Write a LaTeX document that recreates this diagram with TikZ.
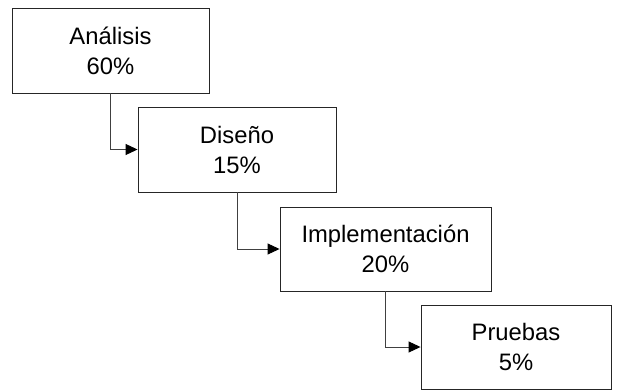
\documentclass[tikz,border=0pt]{standalone}
\usepackage{fontspec}
\setmainfont{Liberation Sans}
\usetikzlibrary{arrows.meta}
\begin{document}
\begin{tikzpicture}[x=1pt,y=-1pt,
  phase/.style={draw=black!85,line width=0.9pt,fill=white,align=center,inner sep=0pt,
    font=\fontsize{23.8}{30}\selectfont},
  link/.style={draw=black!75,line width=0.9pt,-{Triangle[length=12pt,width=11pt,color=black]}}]
\useasboundingbox (0,0) rectangle (620,390);
\node[phase,minimum width=197pt,minimum height=85pt] (a) at (110.5,50.5) {Análisis\\60\%};
\node[phase,minimum width=198pt,minimum height=85pt] (b) at (237,149.5) {Diseño\\15\%};
\node[phase,minimum width=211pt,minimum height=84pt] (c) at (385.5,249) {Implementación\\20\%};
\node[phase,minimum width=190pt,minimum height=84pt] (d) at (516,347) {Pruebas\\5\%};
\draw[link] (a.south) |- (b.west);
\draw[link] (b.south) |- (c.west);
\draw[link] (c.south) |- (d.west);
\end{tikzpicture}
\end{document}
